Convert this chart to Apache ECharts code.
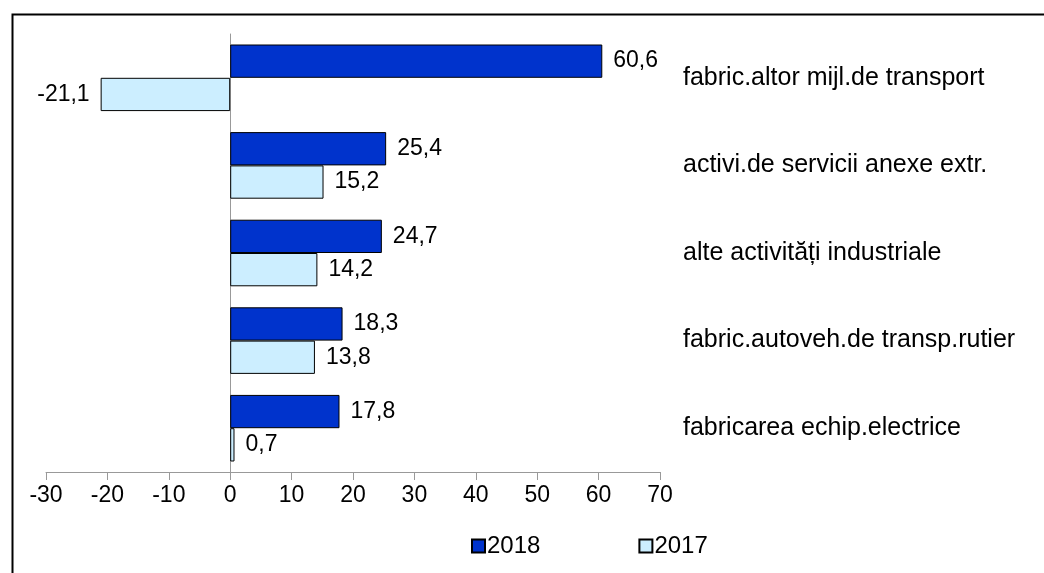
<!DOCTYPE html>
<html>
<head>
<meta charset="utf-8">
<script src="https://cdn.jsdelivr.net/npm/echarts@6/dist/echarts.min.js"></script>
<style>
  html, body { margin: 0; padding: 0; background: #fff; }
  #chart { width: 1044px; height: 573px; }
</style>
</head>
<body>
<div id="chart"></div>
<script>
  // categories top to bottom
  var categories = [
    'fabric.altor mijl.de transport',
    'activi.de servicii anexe extr.',
    'alte activități industriale',
    'fabric.autoveh.de transp.rutier',
    'fabricarea echip.electrice'
  ];
  var values2018 = [60.6, 25.4, 24.7, 18.3, 17.8];
  var values2017 = [-21.1, 15.2, 14.2, 13.8, 0.7];
  var seriesNames = ['2018', '2017'];
  var xTicks = { min: -30, max: 70, interval: 10 };

  var chart = echarts.init(document.getElementById('chart'));

  var fontFamily = 'Liberation Sans, Arial, sans-serif';

  function fmt(v) {
    return v.toFixed(1).replace('.', ',');
  }

  // negative bars get their label on the left
  function toData(arr) {
    return arr.map(function (v) {
      return {
        value: v,
        label: { position: v < 0 ? 'left' : 'right' }
      };
    });
  }

  var itemColors = ['#0033cc', '#cceeff'];

  var labelStyle = {
    show: true,
    distance: 11,
    fontFamily: fontFamily,
    fontSize: 23,
    color: '#000',
    formatter: function (p) { return fmt(p.value); }
  };

  var option = {
    backgroundColor: '#ffffff',
    animation: false,
    graphic: [{
      type: 'rect',
      left: 10,
      top: 12,
      shape: { width: 1100, height: 620 },
      style: { fill: 'none', stroke: '#000', lineWidth: 2 },
      z: 100
    }],
    grid: {
      left: 46,
      right: 384,
      top: 34,
      bottom: 101
    },
    legend: {
      left: 466,
      top: 529,
      itemWidth: 13,
      itemHeight: 13,
      itemGap: 98,
      icon: 'rect',
      textStyle: { fontFamily: fontFamily, fontSize: 24, color: '#000', padding: [0, 0, 0, -3] },
      data: seriesNames
    },
    xAxis: {
      type: 'value',
      min: xTicks.min,
      max: xTicks.max,
      interval: xTicks.interval,
      splitLine: { show: false },
      axisLine: { show: true, onZero: false, lineStyle: { color: '#999', width: 1 } },
      axisTick: { show: true, inside: false, length: 8, lineStyle: { color: '#999' } },
      axisLabel: {
        margin: 12,
        fontFamily: fontFamily,
        fontSize: 23,
        color: '#000'
      }
    },
    yAxis: [{
      type: 'category',
      inverse: true,
      data: categories,
      axisLine: { show: true, onZero: true, lineStyle: { color: '#999' } },
      axisTick: { show: false },
      axisLabel: { show: false }
    }, {
      type: 'category',
      inverse: true,
      position: 'right',
      data: categories,
      axisLine: { show: false },
      axisTick: { show: false },
      axisLabel: {
        margin: 23,
        fontFamily: fontFamily,
        fontSize: 25,
        color: '#000'
      }
    }],
    series: [{
      name: seriesNames[0],
      type: 'bar',
      yAxisIndex: 0,
      barGap: '0%',
      barCategoryGap: '24%',
      data: toData(values2018),
      itemStyle: { color: itemColors[0], borderColor: '#000', borderWidth: 1 },
      label: labelStyle
    }, {
      name: seriesNames[1],
      type: 'bar',
      yAxisIndex: 0,
      barGap: '0%',
      barCategoryGap: '24%',
      data: toData(values2017),
      itemStyle: { color: itemColors[1], borderColor: '#000', borderWidth: 1 },
      label: labelStyle
    }]
  };

  chart.setOption(option);
</script>
</body>
</html>
